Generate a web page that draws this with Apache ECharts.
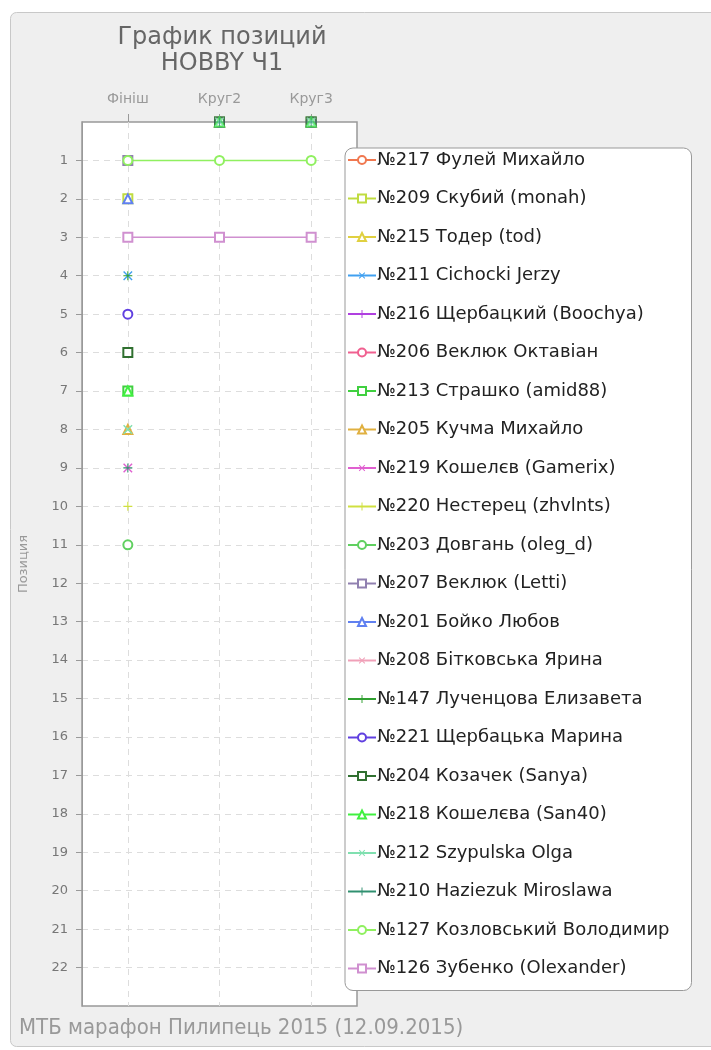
<!DOCTYPE html>
<html>
<head>
<meta charset="utf-8">
<script src="https://cdn.jsdelivr.net/npm/echarts@6/dist/echarts.min.js"></script>
<style>
  html, body { margin: 0; padding: 0; background: #fff; }
  #chart { width: 711px; height: 1050px; }
</style>
</head>
<body>
<div id="chart"></div>
<script>
// етапи (вісь X) і позиції (вісь Y)
const stages = ['Фініш', 'Круг2', 'Круг3']
const positionTicks = [1, 2, 3, 4, 5, 6, 7, 8, 9, 10, 11, 12, 13, 14, 15, 16, 17, 18, 19, 20, 21, 22]

const riders = [
  '№217 Фулей Михайло', '№209 Скубий (monah)', '№215 Тодер (tod)', '№211 Cichocki Jerzy',
  '№216 Щербацкий (Boochya)', '№206 Веклюк Октавіан', '№213 Страшко (amid88)', '№205 Кучма Михайло',
  '№219 Кошелєв (Gamerix)', '№220 Нестерец (zhvlnts)', '№203 Довгань (oleg_d)', '№207 Веклюк (Letti)',
  '№201 Бойко Любов', '№208 Бітковська Ярина', '№147 Лученцова Елизавета', '№221 Щербацька Марина',
  '№204 Козачек (Sanya)', '№218 Кошелєва (San40)', '№212 Szypulska Olga', '№210 Haziezuk Miroslawa',
  '№127 Козловський Володимир', '№126 Зубенко (Olexander)'
]

// позиції на етапах; 0 = немає даних, null = не показано
const finish = [null, 2, null, 4, null, null, 7, 8, 9, 10, 11, 1, 2, null, 4, 5, 6, 7, 8, 9, 1, 3]
const lap2 = [0, 0, 0, 0, 0, 0, 0, 0, 0, 0, 0, 0, 0, 0, 0, 0, 0, 0, 0, 0, 1, 3]
const lap3 = [0, 0, 0, 0, 0, 0, 0, 0, 0, 0, 0, 0, 0, 0, 0, 0, 0, 0, 0, 0, 1, 3]

const colors = [
  '#f07850', '#c0dc40', '#e0d040', '#40a0f0', '#b040e0', '#f06090', '#40d040', '#e0b040',
  '#e060d0', '#d0e040', '#60d060', '#9080b0', '#6080f0', '#f0a0b8', '#30a030', '#6040e0',
  '#307030', '#40f040', '#80e0b0', '#309070', '#90f060', '#d090d0'
]
const PLUS = 'path://M4.4,0H5.6V4.4H10V5.6H5.6V10H4.4V5.6H0V4.4H4.4Z'
const shapes = ['emptyCircle', 'emptyRect', 'emptyTriangle', PLUS, PLUS]
const rotations = [0, 0, 0, 45, 0]

const chart = echarts.init(document.getElementById('chart'))

const lineSeries = []
const zeroSeries = []
riders.forEach((name, i) => {
  const vals = [finish[i], lap2[i], lap3[i]]
  const k = i % 5
  const common = {
    name,
    symbol: shapes[k],
    symbolRotate: rotations[k],
    symbolSize: k === 3 ? 12 : 9,
    itemStyle: { color: colors[i], borderWidth: 1.5 },
  }
  lineSeries.push({
    ...common,
    type: 'line',
    data: vals.map((v, j) => [j, v > 0 ? v : null]),
    lineStyle: { color: colors[i], width: 1.5 },
    connectNulls: false,
    showAllSymbol: true,
    animation: false,
  })
  const zeros = vals.map((v, j) => (v === 0 ? [j, 0] : null)).filter(Boolean)
  if (zeros.length) {
    zeroSeries.push({ ...common, type: 'scatter', data: zeros, clip: false, silent: true, animation: false })
  }
})

chart.setOption({
  backgroundColor: '#fff',
  graphic: [{
    type: 'rect', z: -10, silent: true,
    shape: { x: 10.5, y: 12.5, width: 760, height: 1034, r: 6 },
    style: { fill: '#efefef', stroke: '#c8c8c8', lineWidth: 1 },
  }],
  title: [
    {
      text: 'График позиций\nHOBBY Ч1',
      left: 217, top: 20, textAlign: 'center',
      textStyle: { fontFamily: 'DejaVu Sans', fontSize: 24, fontWeight: 'normal', color: '#666', lineHeight: 26 },
    },
    {
      text: 'МТБ марафон Пилипець 2015 (12.09.2015)',
      left: 14, top: 1012,
      textStyle: {
        fontFamily: '"DejaVu Sans Condensed", "Liberation Sans Narrow", "Roboto Condensed", sans-serif',
        fontSize: 22, fontWeight: 'normal', color: '#999',
      },
    },
  ],
  legend: {
    orient: 'vertical',
    left: 345, top: 148,
    padding: [3, 22, 13, 2],
    itemWidth: 28, itemHeight: 10, itemGap: 20.5,
    backgroundColor: '#fff', borderColor: '#999', borderWidth: 1, borderRadius: 8,
    textStyle: { fontFamily: 'DejaVu Sans', fontSize: 18, color: '#222', padding: [0, 0, 0, -4] },
    data: riders,
  },
  grid: {
    left: 82, top: 122, width: 275, height: 884,
    show: true, backgroundColor: '#fff', borderColor: '#999', borderWidth: 1.5,
  },
  xAxis: {
    type: 'value', position: 'top', min: -0.5, max: 2.5,
    axisLine: { show: false },
    axisTick: { show: true, customValues: [0, 1, 2], length: 8, inside: false, lineStyle: { color: '#999' } },
    axisLabel: {
      customValues: [0, 1, 2], formatter: v => stages[v], margin: 16,
      fontFamily: 'DejaVu Sans', fontSize: 14, color: '#999',
    },
    splitLine: { show: true, lineStyle: { color: '#ddd', type: [6, 5] } },
  },
  yAxis: {
    type: 'value', inverse: true, min: 0, max: 23, interval: 1,
    name: 'Позиция', nameLocation: 'middle', nameGap: 52,
    nameTextStyle: { fontFamily: 'DejaVu Sans', fontSize: 13, color: '#999' },
    axisLine: { show: true, onZero: false, lineStyle: { color: '#999' } },
    axisTick: { show: true, customValues: positionTicks, length: 6, lineStyle: { color: '#999' } },
    axisLabel: {
      customValues: positionTicks, margin: 14,
      fontFamily: 'DejaVu Sans', fontSize: 13, color: '#777',
    },
    splitLine: { show: true, lineStyle: { color: '#ddd', type: [6, 5] } },
  },
  series: [...lineSeries, ...zeroSeries],
})
</script>
</body>
</html>
